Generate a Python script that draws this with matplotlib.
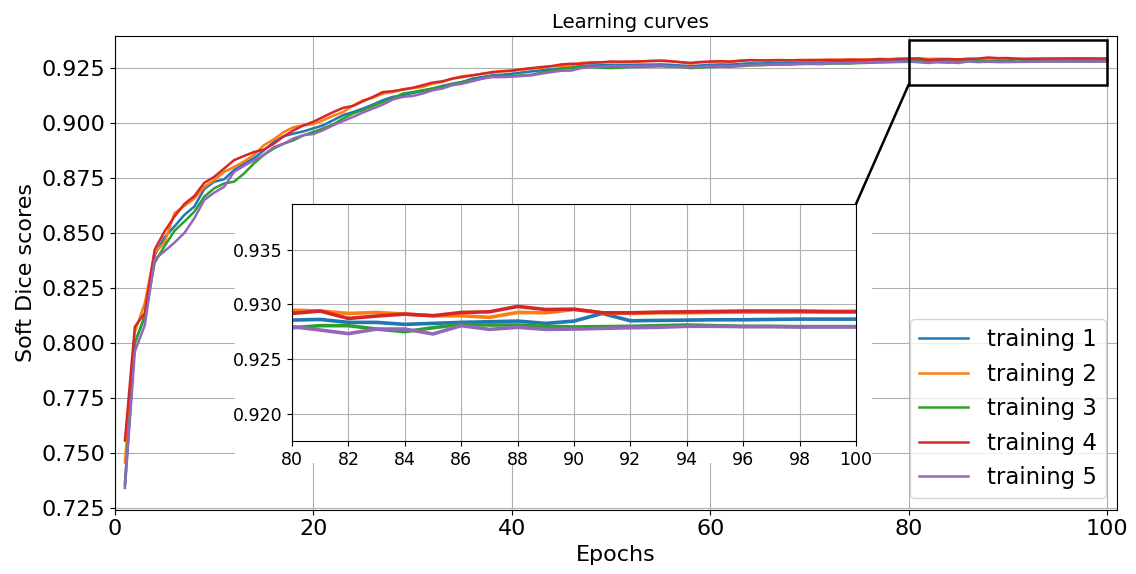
import numpy as np
import matplotlib
matplotlib.use("Agg")
import matplotlib.pyplot as plt
from matplotlib.patches import Rectangle, ConnectionPatch

epochs = list(range(1, 101))

training_1 = [
    0.7360, 0.8000, 0.8120, 0.8400, 0.8480, 0.8530, 0.8582, 0.8620, 0.8700, 0.8733,
    0.8744, 0.8786, 0.8816, 0.8840, 0.8875, 0.8914, 0.8940, 0.8952, 0.8962, 0.8976,
    0.8990, 0.9013, 0.9036, 0.9050, 0.9066, 0.9084, 0.9104, 0.9119, 0.9126, 0.9137,
    0.9145, 0.9157, 0.9169, 0.9179, 0.9187, 0.9202, 0.9209, 0.9217, 0.9220, 0.9224,
    0.9230, 0.9235, 0.9240, 0.9244, 0.9250, 0.9255, 0.9259, 0.9262, 0.9263, 0.9265,
    0.9265, 0.9265, 0.9266, 0.9266, 0.9267, 0.9265, 0.9262, 0.9259, 0.9262, 0.9265,
    0.9267, 0.9266, 0.9269, 0.9272, 0.9271, 0.9273, 0.9274, 0.9273, 0.9275, 0.9276,
    0.9275, 0.9277, 0.9278, 0.9277, 0.9279, 0.9280, 0.9282, 0.9283, 0.9285, 0.92857,
    0.92863, 0.92836, 0.92836, 0.92818, 0.92827, 0.92836, 0.92842, 0.92848, 0.92827, 0.92848,
    0.92918, 0.92851, 0.92854, 0.92857, 0.92860, 0.92860, 0.92863, 0.92866, 0.92866, 0.92866,
]

training_2 = [
    0.7455, 0.8050, 0.8180, 0.8410, 0.8456, 0.8590, 0.8623, 0.8656, 0.8710, 0.8740,
    0.8778, 0.8800, 0.8825, 0.8855, 0.8899, 0.8926, 0.8959, 0.8981, 0.8990, 0.8995,
    0.9013, 0.9033, 0.9050, 0.9080, 0.9104, 0.9115, 0.9134, 0.9141, 0.9154, 0.9160,
    0.9164, 0.9179, 0.9187, 0.9202, 0.9214, 0.9217, 0.9224, 0.9229, 0.9235, 0.9237,
    0.9243, 0.9247, 0.9252, 0.9259, 0.9259, 0.9262, 0.9274, 0.9277, 0.9277, 0.9277,
    0.9278, 0.9277, 0.9280, 0.9283, 0.9285, 0.9282, 0.9277, 0.9270, 0.9276, 0.9277,
    0.9282, 0.9280, 0.9284, 0.9287, 0.9286, 0.9286, 0.9287, 0.9286, 0.9287, 0.9286,
    0.9288, 0.9287, 0.9289, 0.9288, 0.9290, 0.9289, 0.9292, 0.9291, 0.9293, 0.92948,
    0.92940, 0.92918, 0.92927, 0.92912, 0.92897, 0.92897, 0.92882, 0.92927, 0.92924, 0.92954,
    0.92924, 0.92918, 0.92924, 0.92924, 0.92927, 0.92930, 0.92930, 0.92930, 0.92930, 0.92930,
]

training_3 = [
    0.7350, 0.8000, 0.8120, 0.8365, 0.8440, 0.8510, 0.8552, 0.8597, 0.8665, 0.8703,
    0.8725, 0.8733, 0.8770, 0.8816, 0.8855, 0.8884, 0.8906, 0.8922, 0.8944, 0.8960,
    0.8976, 0.8994, 0.9021, 0.9044, 0.9059, 0.9078, 0.9096, 0.9111, 0.9134, 0.9141,
    0.9149, 0.9157, 0.9164, 0.9175, 0.9187, 0.9194, 0.9202, 0.9214, 0.9214, 0.9214,
    0.9217, 0.9220, 0.9230, 0.9239, 0.9247, 0.9250, 0.9259, 0.9255, 0.9252, 0.9250,
    0.9253, 0.9255, 0.9256, 0.9257, 0.9258, 0.9256, 0.9255, 0.9250, 0.9253, 0.9255,
    0.9257, 0.9256, 0.9259, 0.9262, 0.9263, 0.9265, 0.9266, 0.9266, 0.9268, 0.9269,
    0.9268, 0.9270, 0.9271, 0.9271, 0.9273, 0.9274, 0.9276, 0.9277, 0.9278, 0.92787,
    0.92806, 0.92806, 0.92775, 0.92751, 0.92787, 0.92818, 0.92812, 0.92812, 0.92800, 0.92794,
    0.92797, 0.92800, 0.92806, 0.92812, 0.92806, 0.92800, 0.92800, 0.92797, 0.92797, 0.92797,
]

training_4 = [
    0.7555, 0.8073, 0.8135, 0.8424, 0.8507, 0.8575, 0.8632, 0.8668, 0.8728, 0.8755,
    0.8793, 0.8831, 0.8850, 0.8868, 0.8879, 0.8906, 0.8939, 0.8967, 0.8989, 0.9006,
    0.9028, 0.9050, 0.9069, 0.9078, 0.9099, 0.9119, 0.9141, 0.9145, 0.9152, 0.9160,
    0.9172, 0.9184, 0.9190, 0.9202, 0.9209, 0.9217, 0.9224, 0.9232, 0.9236, 0.9239,
    0.9245, 0.9250, 0.9255, 0.9259, 0.9267, 0.9270, 0.9270, 0.9274, 0.9276, 0.9280,
    0.9279, 0.9280, 0.9281, 0.9282, 0.9283, 0.9281, 0.9277, 0.9274, 0.9278, 0.9280,
    0.9281, 0.9279, 0.9283, 0.9286, 0.9285, 0.9285, 0.9286, 0.9285, 0.9286, 0.9287,
    0.9286, 0.9288, 0.9286, 0.9289, 0.9287, 0.9288, 0.9291, 0.9289, 0.9292, 0.92918,
    0.92940, 0.92872, 0.92894, 0.92912, 0.92897, 0.92927, 0.92933, 0.92982, 0.92954, 0.92957,
    0.92924, 0.92924, 0.92930, 0.92933, 0.92936, 0.92940, 0.92940, 0.92940, 0.92936, 0.92936,
]

training_5 = [
    0.7339, 0.7960, 0.8080, 0.8380, 0.8417, 0.8456, 0.8500, 0.8567, 0.8650, 0.8683,
    0.8710, 0.8778, 0.8805, 0.8830, 0.8855, 0.8890, 0.8906, 0.8930, 0.8945, 0.8950,
    0.8968, 0.8990, 0.9009, 0.9028, 0.9048, 0.9066, 0.9084, 0.9107, 0.9119, 0.9123,
    0.9134, 0.9149, 0.9157, 0.9172, 0.9179, 0.9190, 0.9202, 0.9209, 0.9209, 0.9211,
    0.9214, 0.9217, 0.9225, 0.9232, 0.9238, 0.9239, 0.9250, 0.9255, 0.9257, 0.9259,
    0.9259, 0.9259, 0.9260, 0.9261, 0.9262, 0.9258, 0.9256, 0.9253, 0.9256, 0.9259,
    0.9260, 0.9259, 0.9262, 0.9265, 0.9266, 0.9267, 0.9268, 0.9268, 0.9270, 0.9271,
    0.9270, 0.9272, 0.9273, 0.9273, 0.9275, 0.9276, 0.9277, 0.9278, 0.9279, 0.92797,
    0.92766, 0.92733, 0.92775, 0.92775, 0.92730, 0.92806, 0.92772, 0.92791, 0.92772, 0.92775,
    0.92781, 0.92787, 0.92791, 0.92800, 0.92800, 0.92797, 0.92797, 0.92794, 0.92794, 0.92794,
]

series = [training_1, training_2, training_3, training_4, training_5]
labels = ["training 1", "training 2", "training 3", "training 4", "training 5"]
colors = ["#1f77b4", "#ff7f0e", "#2ca02c", "#d62728", "#9467bd"]

main_xticks = [0, 20, 40, 60, 80, 100]
inset_xticks = list(range(80, 101, 2))
inset_yticks = [0.920, 0.925, 0.930, 0.935]
zoom_x = (80, 100)
zoom_y = (0.9175, 0.9392)
rect_y = (0.9175, 0.9378)

W, H = 1136, 574
fig = plt.figure(figsize=(W / 100, H / 100), dpi=100)
ax = fig.add_axes([115 / W, 1 - 509.5 / H, (1117 - 115) / W, (509.5 - 36) / H])

for s, lab, c in zip(series, labels, colors):
    ax.plot(epochs, s, color=c, lw=1.8, label=lab)

ax.set_xlim(0, 101)
ax.set_xticks(main_xticks)
ax.grid(True)
ax.tick_params(labelsize=16)
ax.set_xlabel("Epochs", fontsize=16)
ax.set_ylabel("Soft Dice scores", fontsize=16)
ax.set_title("Learning curves", fontsize=14.2, x=0.514)
ax.yaxis.set_major_formatter(matplotlib.ticker.FormatStrFormatter("%.3f"))
ax.legend(loc="lower right", fontsize=16.4, labelspacing=0.5, handlelength=2.15)

# zoom rectangle in main axes
ax.add_patch(Rectangle((zoom_x[0], rect_y[0]), zoom_x[1] - zoom_x[0], rect_y[1] - rect_y[0],
                       fill=False, edgecolor="black", lw=1.8, zorder=6))

# white backdrop behind inset (covers its tick labels)
fig.patches.append(Rectangle((235 / W, 1 - 463 / H), (872 - 235) / W, (463 - 204) / H,
                             transform=fig.transFigure, facecolor="white",
                             edgecolor="none", zorder=2))

axins = fig.add_axes([292 / W, 1 - 441 / H, (856 - 292) / W, (441 - 204) / H])
axins.set_zorder(5)
for s, c in zip(series, colors):
    axins.plot(epochs, s, color=c, lw=2.6)
axins.set_xlim(*zoom_x)
axins.set_ylim(*zoom_y)
axins.set_xticks(inset_xticks)
axins.set_yticks(inset_yticks)
axins.yaxis.set_major_formatter(matplotlib.ticker.FormatStrFormatter("%.3f"))
axins.tick_params(labelsize=12.5)
axins.grid(True)

con = ConnectionPatch(xyA=(1, 1), coordsA=axins.transAxes,
                      xyB=(zoom_x[0], rect_y[0]), coordsB=ax.transData,
                      color="black", lw=1.8)
con.set_zorder(7)
fig.add_artist(con)

fig.savefig("out.png", dpi=100)
